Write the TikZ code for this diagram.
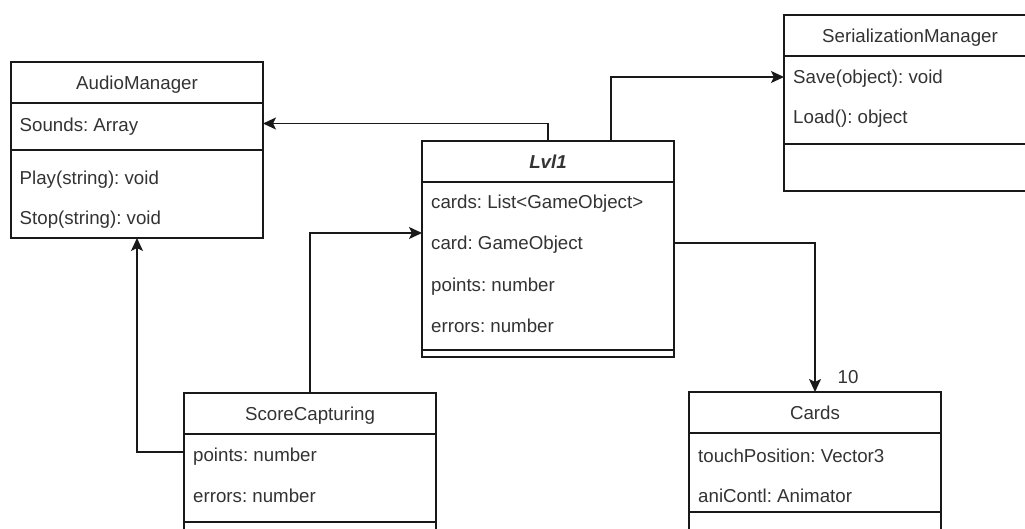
\documentclass[tikz,border=0pt]{standalone}
\usepackage{fontspec}
\setmainfont{Liberation Sans}
\frenchspacing
\usetikzlibrary{arrows.meta,positioning}

\begin{document}
\begin{tikzpicture}[
    x=1pt, y=-1pt,
    font=\fontsize{18.7}{22}\selectfont,
    every node/.style={text=black!80},
    head/.style={rectangle, draw=black!90, line width=1.5pt, minimum width=252pt, minimum height=41pt, inner sep=0pt, outer sep=0pt, text height=13.5pt, text depth=0pt, anchor=north west},
    part/.style={rectangle, draw=black!90, line width=1.5pt, minimum width=252pt, inner sep=0pt, outer sep=0pt},
    member/.style={anchor=base west, inner sep=0pt},
    arrow/.style={-{Stealth[length=13pt, width=12pt, inset=3pt]}, draw=black!90, line width=1.5pt}
]
    \useasboundingbox (0,0) rectangle (1025,529);
    \fill[white] (0,0) rectangle (1025,529);
    \clip (0,0) rectangle (1025,529);

    % AudioManager
    \node[head] (audio) at (11,62) {AudioManager};
    \node[part, below=0pt of audio, minimum height=47pt] (audioattr) {};
    \node[part, below=0pt of audioattr, minimum height=88pt] (audioops) {};
    \node[member] (sounds) at (19.5,132) {Sounds: Array};
    \node[member] (play) at (19.5,185) {Play(string): void};
    \node[member] (stop) at (19.5,225) {Stop(string): void};

    % Lvl1
    \node[head, font=\fontsize{18.7}{22}\selectfont\bfseries\itshape] (lvl) at (422,141) {Lvl1};
    \node[part, below=0pt of lvl, minimum height=168pt] (lvlattr) {};
    \node[part, below=0pt of lvlattr, minimum height=7pt] (lvlops) {};
    \node[member] (cardlist) at (431,209) {cards: List\textless GameObject\textgreater};
    \node[member] (card) at (431,250) {card: GameObject};
    \node[member] (lvlpoints) at (431,291) {points: number};
    \node[member] (lvlerrors) at (431,332) {errors: number};

    % SerializationManager
    \node[head] (ser) at (784,15) {SerializationManager};
    \node[part, below=0pt of ser, minimum height=88pt] (serops) {};
    \node[part, below=0pt of serops, minimum height=47pt] (serextra) {};
    \node[member] (save) at (793,84) {Save(object): void};
    \node[member] (load) at (793,124) {Load(): object};

    % ScoreCapturing
    \node[head] (score) at (184,393) {ScoreCapturing};
    \node[part, below=0pt of score, minimum height=88pt] (scoreattr) {};
    \node[part, below=0pt of scoreattr, minimum height=47pt] (scoreops) {};
    \node[member] (points) at (193,461) {points: number};
    \node[member] (errors) at (193,502) {errors: number};

    % Cards
    \node[head] (cards) at (689,392) {Cards};
    \node[part, below=0pt of cards, minimum height=79pt] (cardsattr) {};
    \node[part, below=0pt of cardsattr, minimum height=47pt] (cardsops) {};
    \node[member] (touch) at (698,462) {touchPosition: Vector3};
    \node[member] (anim) at (698,502) {aniContl: Animator};

    % multiplicity
    \node (mult) at ([xshift=33pt,yshift=15pt]cards.north) {10};

    % Connections
    \draw[arrow] (lvl.north) |- ([yshift=3pt]audioattr.east);
    \draw[arrow] ([xshift=63pt]lvl.north) |- ([yshift=23pt]serops.west);
    \draw[arrow] (score.north) |- ([yshift=33pt]lvlattr.west);
    \draw[arrow] ([yshift=26pt]scoreattr.west) -| (audioops.south);
    \draw[arrow] ([yshift=23pt]lvlattr.east) -| (cards.north);
\end{tikzpicture}
\end{document}
